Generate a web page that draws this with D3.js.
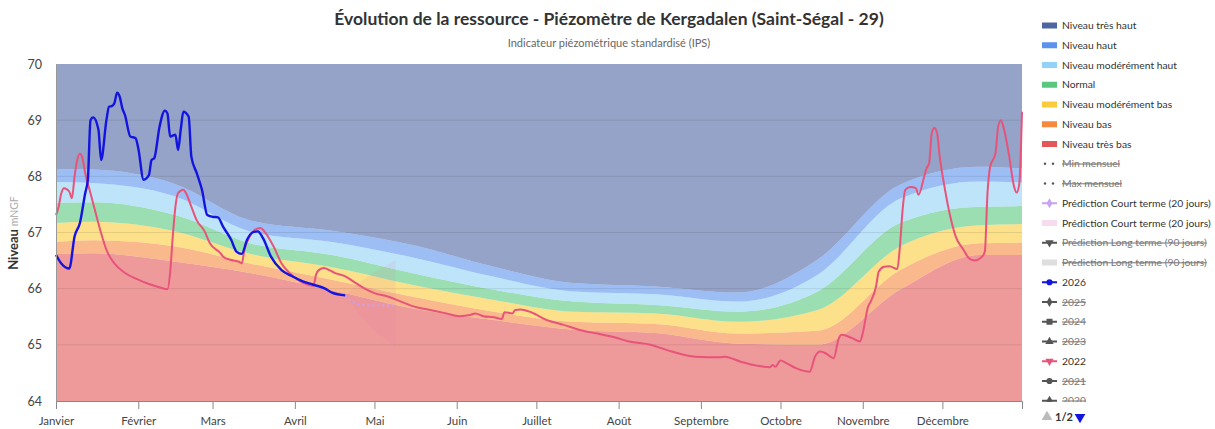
<!DOCTYPE html>
<html>
<head>
<meta charset="utf-8">
<script src="https://cdn.jsdelivr.net/npm/d3@7"></script>
<style>
  body { margin: 0; background: #fff; font-family: Lato, "Open Sans", sans-serif; }
  .title { font-size: 17.5px; font-weight: bold; fill: #333; }
  .subtitle { font-size: 11px; fill: #666; }
  .axis text { font-size: 11.5px; fill: #444; font-family: Lato, sans-serif; }
  .legend text { font-size: 10.3px; fill: #333; }
  .legend .off { fill: #777; text-decoration: line-through; }
</style>
</head>
<body>
<div id="chart"></div>
<script>
var margin = {top: 64, right: 193, bottom: 28, left: 56};
var width = 1215 - margin.left - margin.right;
var height = 429 - margin.top - margin.bottom;

// ---- data ----
var monthNames = ["Janvier", "Février", "Mars", "Avril", "Mai", "Juin", "Juillet",
  "Août", "Septembre", "Octobre", "Novembre", "Décembre"];
var yTicks = [64, 65, 66, 67, 68, 69, 70];

// IPS band limits (top of each band), mid-month
var bandDates = ["01-01", "01-15", "02-15", "03-15", "04-15", "05-15", "06-15",
  "07-15", "08-15", "09-15", "10-15", "11-15", "12-15", "12-31"];
var topTresBas   = [66.62, 66.63, 66.48, 66.28, 65.97, 65.65, 65.44, 65.27, 65.21, 65.02, 65.00, 65.98, 66.60, 66.60];
var topBas       = [66.83, 66.86, 66.75, 66.45, 66.16, 65.86, 65.59, 65.41, 65.37, 65.20, 65.25, 66.33, 66.81, 66.82];
var topModBas    = [67.17, 67.19, 67.02, 66.62, 66.38, 66.07, 65.80, 65.59, 65.56, 65.41, 65.62, 66.75, 67.13, 67.15];
var topNormal    = [67.53, 67.54, 67.31, 66.81, 66.60, 66.28, 65.98, 65.77, 65.71, 65.59, 65.95, 67.17, 67.46, 67.47];
var topModHaut   = [67.90, 67.88, 67.64, 67.02, 66.83, 66.56, 66.21, 65.95, 65.90, 65.77, 66.25, 67.60, 67.91, 67.89];
var topHaut      = [68.13, 68.12, 67.86, 67.22, 67.03, 66.78, 66.39, 66.10, 66.04, 65.93, 66.52, 67.85, 68.17, 68.14];

var dates2026 = ["01-01", "01-03", "01-06", "01-08", "01-10", "01-12", "01-13", "01-14", "01-15", "01-17",
  "01-18", "01-20", "01-21", "01-22", "01-23", "01-24", "01-25", "01-26", "01-27", "01-29",
  "01-31", "02-01", "02-03", "02-05", "02-06", "02-07", "02-09", "02-11", "02-12", "02-13",
  "02-15", "02-16", "02-17", "02-18", "02-20", "02-21", "02-23", "02-25", "02-27", "03-01",
  "03-03", "03-05", "03-08", "03-10", "03-12", "03-14", "03-16", "03-18", "03-20", "03-23",
  "03-27", "03-31", "04-04", "04-08", "04-12", "04-15", "04-20"];
var values2026 = [66.60, 66.45, 66.36, 66.93, 67.17, 67.70, 67.94, 69.00, 69.05, 68.83,
  68.29, 69.00, 69.24, 69.25, 69.30, 69.49, 69.42, 69.21, 69.09, 68.71,
  68.68, 68.50, 67.94, 68.02, 68.29, 68.32, 68.88, 69.17, 69.12, 68.71,
  68.74, 68.47, 68.83, 69.15, 69.06, 68.35, 68.06, 67.76, 67.31, 67.28,
  67.27, 67.10, 66.87, 66.66, 66.62, 66.87, 67.00, 67.02, 66.90, 66.57,
  66.33, 66.22, 66.13, 66.07, 66.01, 65.93, 65.88];

var dates2022 = ["01-01", "01-02", "01-03", "01-04", "01-06", "01-07", "01-08", "01-09", "01-10", "01-11",
  "01-12", "01-14", "01-16", "01-18", "01-20", "01-23", "01-27", "02-01", "02-04", "02-08",
  "02-12", "02-13", "02-14", "02-15", "02-16", "02-18", "02-19", "02-21", "02-23", "02-26",
  "02-28", "03-04", "03-05", "03-08", "03-11", "03-12", "03-13", "03-15", "03-17", "03-19",
  "03-21", "03-24", "03-27", "03-30", "04-02", "04-06", "04-08", "04-09", "04-10", "04-12",
  "04-14", "04-16", "04-20", "04-23", "04-27", "05-01", "05-06", "05-11", "05-16", "05-22",
  "05-28", "06-02", "06-06", "06-08", "06-11", "06-15", "06-18", "06-19", "06-22", "06-23",
  "06-25", "06-29", "07-05", "07-11", "07-17", "07-24", "07-30", "08-05", "08-13", "08-19",
  "08-30", "09-08", "09-10", "09-16", "09-22", "09-27", "09-28", "09-29", "10-01", "10-03",
  "10-07", "10-12", "10-14", "10-16", "10-18", "10-21", "10-23", "10-24", "10-28", "10-31",
  "11-01", "11-03", "11-04", "11-06", "11-07", "11-09", "11-11", "11-14", "11-15", "11-16",
  "11-17", "11-19", "11-21", "11-22", "11-24", "11-25", "11-26", "11-27", "11-28", "11-29",
  "11-30", "12-02", "12-04", "12-06", "12-09", "12-11", "12-13", "12-16", "12-17", "12-18",
  "12-19", "12-21", "12-22", "12-23", "12-24", "12-26", "12-28", "12-29", "12-30", "12-31"];
var values2022 = [67.31, 67.46, 67.70, 67.79, 67.73, 67.61, 68.00, 68.29, 68.40, 68.32,
  68.06, 67.70, 67.34, 66.99, 66.69, 66.45, 66.28, 66.16, 66.10, 66.04,
  65.99, 66.28, 66.93, 67.46, 67.70, 67.76, 67.70, 67.46, 67.22, 67.02,
  66.81, 66.63, 66.57, 66.51, 66.48, 66.45, 66.69, 66.93, 67.05, 67.08,
  66.99, 66.75, 66.45, 66.28, 66.16, 66.07, 66.05, 66.25, 66.33, 66.37,
  66.33, 66.28, 66.22, 66.13, 66.01, 65.92, 65.86, 65.77, 65.68, 65.62,
  65.56, 65.51, 65.53, 65.56, 65.51, 65.49, 65.46, 65.58, 65.56, 65.62,
  65.63, 65.58, 65.44, 65.36, 65.27, 65.20, 65.14, 65.06, 65.00, 64.91,
  64.79, 64.78, 64.79, 64.70, 64.63, 64.60, 64.64, 64.61, 64.72, 64.68,
  64.58, 64.52, 64.79, 64.88, 64.85, 64.76, 65.12, 65.18, 65.12, 65.06,
  65.21, 65.68, 65.77, 66.04, 66.30, 66.39, 66.40, 66.35, 66.75, 67.40,
  67.76, 67.81, 67.79, 67.67, 67.97, 68.14, 68.23, 68.77, 68.86, 68.77,
  68.35, 67.76, 67.28, 66.93, 66.69, 66.54, 66.50, 66.57, 66.66, 67.70,
  68.17, 68.41, 68.88, 69.00, 68.88, 68.41, 67.82, 67.71, 67.88, 69.15];

// short term prediction (20 days)
var predDates = ["04-20", "04-25", "05-01", "05-09"];
var predValues = [65.88, 65.72, 65.70, 65.70];
var predLow = [65.88, 65.55, 65.25, 64.95];
var predHigh = [65.88, 66.10, 66.30, 66.51];

var legendNames = ["Niveau très haut", "Niveau haut", "Niveau modérément haut", "Normal",
  "Niveau modérément bas", "Niveau bas", "Niveau très bas", "Min mensuel", "Max mensuel",
  "Prédiction Court terme (20 jours)", "Prédiction Court terme (20 jours)",
  "Prédiction Long terme (90 jours)", "Prédiction Long terme (90 jours)",
  "2026", "2025", "2024", "2023", "2022", "2021", "2020"];
var legendHidden = [false, false, false, false, false, false, false, true, true,
  false, false, true, true, false, true, true, true, false, true, true];

// ---- drawing ----
var bandColors = ["#e35758", "#f58a3f", "#facb3c", "#58c87f", "#93d2f7", "#5a93ee", "#4d66a2"];
var blue = "#1414e0", red = "#e8537a", lilac = "#c9a3f2";

function parseDay(s) { return new Date(2022, +s.slice(0, 2) - 1, +s.slice(3, 5)); }

var svg = d3.select("#chart").append("svg")
  .attr("width", width + margin.left + margin.right)
  .attr("height", height + margin.top + margin.bottom);

var x = d3.scaleTime()
  .domain([parseDay("01-01"), parseDay("12-31")])
  .range([0, width]);
var y = d3.scaleLinear().domain([64, 70]).range([height, 0]);

var g = svg.append("g").attr("transform", "translate(" + margin.left + "," + margin.top + ")");

// bands: from 64 up to 70
var limits = [bandDates.map(function() { return 64; }), topTresBas, topBas, topModBas,
  topNormal, topModHaut, topHaut, bandDates.map(function() { return 70; })];

var bandArea = d3.area()
  .curve(d3.curveMonotoneX)
  .x(function(d) { return x(d.date); })
  .y0(function(d) { return y(d.lo); })
  .y1(function(d) { return y(d.hi); });

for (var b = 0; b < 7; b++) {
  var rows = bandDates.map(function(d, i) {
    return {date: parseDay(d), lo: limits[b][i], hi: limits[b + 1][i]};
  });
  g.append("path")
    .datum(rows)
    .attr("d", bandArea)
    .attr("fill", bandColors[b])
    .attr("fill-opacity", 0.6);
}

// grid
g.selectAll(".grid")
  .data(yTicks.slice(1, -1))
  .enter().append("line")
  .attr("x1", 0).attr("x2", width)
  .attr("y1", function(d) { return y(d); })
  .attr("y2", function(d) { return y(d); })
  .attr("stroke", "#000").attr("stroke-opacity", 0.09);

// prediction range
var predRows = predDates.map(function(d, i) {
  return {date: parseDay(d), v: predValues[i], lo: predLow[i], hi: predHigh[i]};
});
g.append("path")
  .datum(predRows)
  .attr("d", d3.area().x(function(d) { return x(d.date); })
    .y0(function(d) { return y(d.lo); }).y1(function(d) { return y(d.hi); }))
  .attr("fill", "#e3789a").attr("fill-opacity", 0.1);

var line = d3.line()
  .curve(d3.curveMonotoneX)
  .x(function(d) { return x(d.date); })
  .y(function(d) { return y(d.v); });

g.append("path")
  .datum(dates2022.map(function(d, i) { return {date: parseDay(d), v: values2022[i]}; }))
  .attr("d", line)
  .attr("fill", "none").attr("stroke", red).attr("stroke-width", 2);

g.append("path")
  .datum(predRows)
  .attr("d", line)
  .attr("fill", "none").attr("stroke", lilac).attr("stroke-width", 2)
  .attr("stroke-dasharray", "2,3");

g.append("path")
  .datum(dates2026.map(function(d, i) { return {date: parseDay(d), v: values2026[i]}; }))
  .attr("d", line)
  .attr("fill", "none").attr("stroke", blue).attr("stroke-width", 2.4);

// axes
var monthStarts = monthNames.map(function(m, i) { return new Date(2022, i, 1); });
var xAxis = g.append("g")
  .attr("class", "axis")
  .attr("transform", "translate(0," + height + ")")
  .call(d3.axisBottom(x).tickValues(monthStarts).tickSize(8).tickPadding(8)
    .tickFormat(function(d) { return monthNames[d.getMonth()]; }));
xAxis.select(".domain").attr("stroke", "#888");
xAxis.selectAll(".tick line").attr("stroke", "#888");

var yAxis = g.append("g")
  .attr("class", "axis")
  .call(d3.axisLeft(y).tickValues(yTicks).tickSize(0).tickPadding(14)
    .tickFormat(d3.format("d")));
yAxis.select(".domain").attr("stroke", "#999");
yAxis.selectAll("text").style("font-size", "12.5px").attr("fill", "#555");

svg.append("text")
  .attr("transform", "translate(18,233) rotate(-90)")
  .attr("text-anchor", "middle")
  .call(function(t) {
    t.append("tspan").text("Niveau").attr("font-weight", "bold").attr("font-size", 13).attr("fill", "#333");
    t.append("tspan").text(" mNGF").attr("font-size", 10.5).attr("fill", "#aaa");
  });

// title
svg.append("text")
  .attr("class", "title")
  .attr("x", 609).attr("y", 25)
  .attr("text-anchor", "middle")
  .text("Évolution de la ressource - Piézomètre de Kergadalen (Saint-Ségal - 29)");

svg.append("text")
  .attr("class", "subtitle")
  .attr("x", 609).attr("y", 47)
  .attr("text-anchor", "middle")
  .text("Indicateur piézométrique standardisé (IPS)");

// legend (second page of items is cut by the pager)
svg.append("clipPath").attr("id", "legclip")
  .append("rect").attr("x", 1030).attr("y", 0).attr("width", 185).attr("height", 402);

var legend = svg.append("g").attr("class", "legend").attr("clip-path", "url(#legclip)");
var legendTop = 25.5, legendStep = 19.75;
var bandLegend = [6, 5, 4, 3, 2, 1, 0];
var greyLine = "#555";
var markerTypes = {13: d3.symbolCircle, 14: d3.symbolDiamond, 15: d3.symbolSquare,
  16: d3.symbolTriangle, 17: d3.symbolTriangle, 18: d3.symbolCircle, 19: d3.symbolDiamond,
  9: d3.symbolDiamond, 11: d3.symbolTriangle};

legendNames.forEach(function(name, i) {
  var row = legend.append("g")
    .attr("transform", "translate(1042," + (legendTop + i * legendStep) + ")");
  if (i < 7) {
    row.append("rect").attr("x", 0).attr("y", -3).attr("width", 15).attr("height", 6)
      .attr("fill", bandColors[bandLegend[i]]);
  } else if (i === 7 || i === 8) {
    row.append("circle").attr("cx", 3).attr("cy", 0).attr("r", 1.2).attr("fill", "#555");
    row.append("circle").attr("cx", 11).attr("cy", 0).attr("r", 1.2).attr("fill", "#555");
  } else if (i === 10 || i === 12) {
    row.append("rect").attr("x", 0).attr("y", -3).attr("width", 15).attr("height", 6)
      .attr("fill", i === 10 ? "#f7dcef" : "#dedede");
  } else {
    var col = i === 13 ? blue : (i === 17 ? red : (i === 9 ? lilac : greyLine));
    row.append("line").attr("x1", 0).attr("x2", 15).attr("y1", 0).attr("y2", 0)
      .attr("stroke", col).attr("stroke-width", 2);
    var rot = (i === 17 || i === 11) ? 180 : 0;
    row.append("path")
      .attr("d", d3.symbol().type(markerTypes[i]).size(i === 15 ? 36 : 30)())
      .attr("transform", "translate(7.5,0) rotate(" + rot + ")")
      .attr("fill", col);
  }
  row.append("text")
    .attr("x", 20).attr("dy", "0.35em")
    .attr("class", legendHidden[i] ? "off" : null)
    .text(name);
});

// pager
var pager = svg.append("g").attr("transform", "translate(1042,417)");
pager.append("path").attr("d", d3.symbol().type(d3.symbolTriangle).size(50)())
  .attr("transform", "translate(5,0)").attr("fill", "#bbb");
pager.append("text").attr("x", 13).attr("dy", "0.35em").attr("font-size", 11)
  .attr("font-weight", "bold").attr("fill", "#333").text("1/2");
pager.append("path").attr("d", d3.symbol().type(d3.symbolTriangle).size(50)())
  .attr("transform", "translate(38,0) rotate(180)").attr("fill", "#1414e0");
</script>
</body>
</html>
